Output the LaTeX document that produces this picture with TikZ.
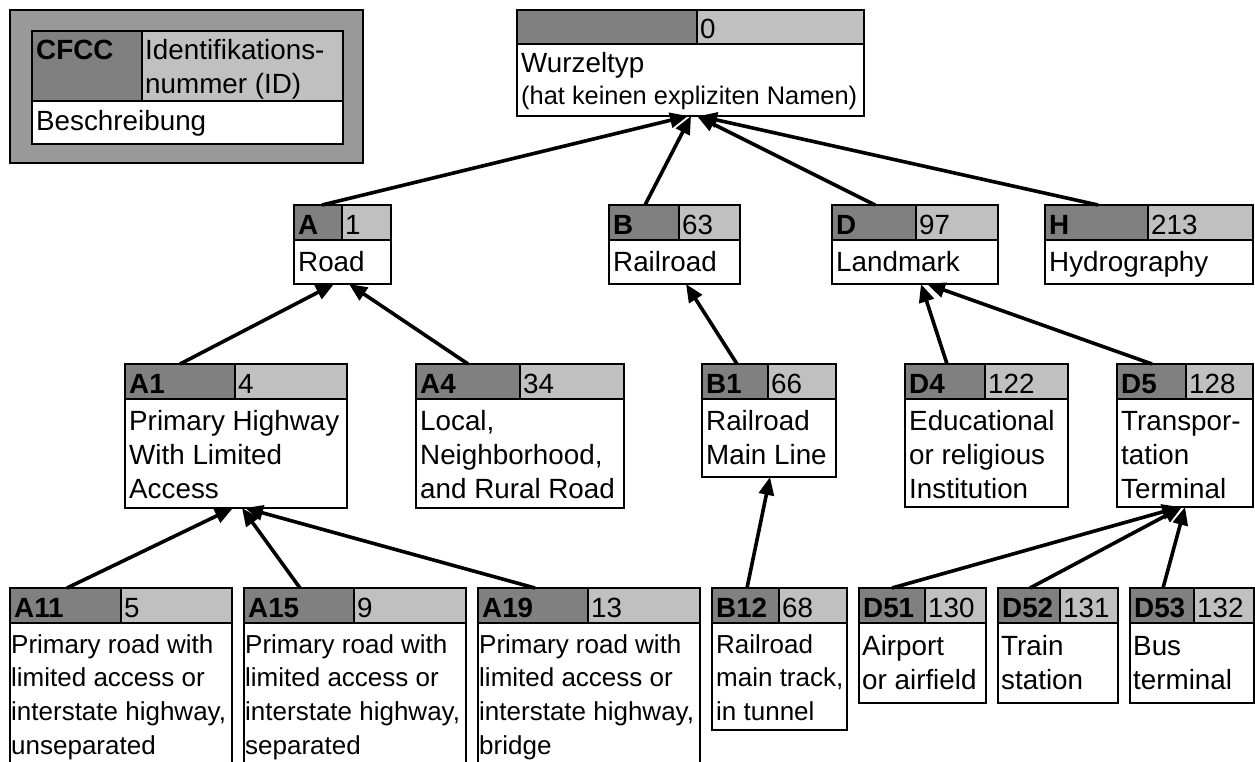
\documentclass[tikz,border=0pt]{standalone}
\usepackage{fontspec}
\setmainfont{Liberation Sans}
\usetikzlibrary{arrows.meta}

\definecolor{hdark}{RGB}{128,128,128}
\definecolor{hlight}{RGB}{192,192,192}
\definecolor{legendbg}{RGB}{153,153,153}

\tikzset{
  cfnode/.style={rectangle, draw=none, fill=white, inner sep=0pt, outer sep=0pt},
  boxline/.style={line width=1.8pt, draw=black},
  codetext/.style={anchor=base west, inner sep=0pt, font=\fontsize{27.8}{34}\selectfont\bfseries},
  idtext/.style={anchor=base west, inner sep=0pt, font=\fontsize{27.8}{34}\selectfont},
  bodytext/.style={anchor=base west, inner sep=0pt, font=\fontsize{27.8}{34}\selectfont},
  smallbody/.style={anchor=base west, inner sep=0pt, font=\fontsize{26}{33.7}\selectfont},
  notetext/.style={anchor=base west, inner sep=0pt, font=\fontsize{25.4}{32}\selectfont},
  link/.style={line width=3.6pt, -{Triangle[length=18pt,width=15pt]}},
}

% multi-line cell text, baseline at the first line
\newcommand\celllines[1]{\parbox[t]{400pt}{\raggedright #1}}

% type box: name, left, top, right, split x, header bottom, bottom, code, id
\newcommand\cfbox[9]{%
  \node[cfnode, anchor=north west, minimum width={(#4-#2)*1pt}, minimum height={(#7-#3)*1pt}] (#1) at (#2,#3) {};
  \fill[hdark] (#2,#3) rectangle (#5,#6);
  \fill[hlight] (#5,#3) rectangle (#4,#6);
  \draw[boxline] (#2,#3) rectangle (#4,#7) (#2,#6) -- (#4,#6) (#5,#3) -- (#5,#6);
  \node[codetext] (#1-code) at (#2+4,#3+29) {#8};
  \node[idtext] (#1-id) at (#5+3,#3+29) {#9};
}

\begin{document}
\begin{tikzpicture}[x=1pt, y=-1pt]
\useasboundingbox (0,0) rectangle (1255,762);
\fill[white] (0,0) rectangle (1255,762);
\clip (0,0) rectangle (1255,762);

% legend
\node[cfnode, fill=legendbg, draw=black, line width=1.8pt, anchor=north west,
      minimum width=353pt, minimum height=153pt] (legend) at (10,10) {};
\cfbox{key}{32}{31}{343}{142}{101}{144}{CFCC}{\celllines{Identifikations-\\nummer (ID)}}
\node[bodytext] (key-text) at (36,131) {Beschreibung};

% root type
\cfbox{root}{517}{10}{864}{697}{44}{116}{}{0}
\node[bodytext] (root-text) at (521,73) {Wurzeltyp};
\node[notetext] (root-note) at (521,105) {(hat keinen expliziten Namen)};

% first level
\cfbox{A}{294}{205}{391}{342}{240}{284}{A}{1}
\node[bodytext] (A-text) at (298,271) {Road};
\cfbox{B}{609}{205}{740}{679}{240}{284}{B}{63}
\node[bodytext] (B-text) at (613,271) {Railroad};
\cfbox{D}{832}{205}{998}{916}{240}{284}{D}{97}
\node[bodytext] (D-text) at (836,271) {Landmark};
\cfbox{H}{1045}{205}{1253}{1148}{240}{284}{H}{213}
\node[bodytext] (H-text) at (1049,271) {Hydrography};

% second level
\cfbox{A1}{125}{364}{347}{235}{399}{508}{A1}{4}
\node[bodytext] (A1-text) at (129,430) {\celllines{Primary Highway\\With Limited\\Access}};
\cfbox{A4}{416}{364}{624}{520}{399}{508}{A4}{34}
\node[bodytext] (A4-text) at (420,430) {\celllines{Local,\\Neighborhood,\\and Rural Road}};
\cfbox{B1}{702}{364}{836}{768}{399}{477}{B1}{66}
\node[bodytext] (B1-text) at (706,430) {\celllines{Railroad\\Main Line}};
\cfbox{D4}{905}{364}{1068}{985}{399}{507}{D4}{122}
\node[bodytext] (D4-text) at (909,430) {\celllines{Educational\\or religious\\Institution}};
\cfbox{D5}{1117}{364}{1253}{1186}{399}{507}{D5}{128}
\node[bodytext] (D5-text) at (1121,430) {\celllines{Transpor-\\tation\\Terminal}};

% third level
\cfbox{A11}{10}{588}{232}{121}{623}{800}{A11}{5}
\node[smallbody] (A11-text) at (11,653) {\celllines{Primary road with\\limited access or\\interstate highway,\\unseparated}};
\cfbox{A15}{244}{588}{466}{354}{623}{800}{A15}{9}
\node[smallbody] (A15-text) at (245,653) {\celllines{Primary road with\\limited access or\\interstate highway,\\separated}};
\cfbox{A19}{478}{588}{700}{588}{623}{800}{A19}{13}
\node[smallbody] (A19-text) at (479,653) {\celllines{Primary road with\\limited access or\\interstate highway,\\bridge}};
\cfbox{B12}{712}{588}{847}{779}{623}{730}{B12}{68}
\node[smallbody] (B12-text) at (716,653) {\celllines{Railroad\\main track,\\in tunnel}};
\cfbox{D51}{859}{588}{986}{925}{623}{703}{D51}{130}
\node[bodytext] (D51-text) at (862,655) {\celllines{Airport\\or airfield}};
\cfbox{D52}{998}{588}{1118}{1060}{623}{703}{D52}{131}
\node[bodytext] (D52-text) at (1001,655) {\celllines{Train\\station}};
\cfbox{D53}{1130}{588}{1254}{1194}{623}{703}{D53}{132}
\node[bodytext] (D53-text) at (1133,655) {\celllines{Bus\\terminal}};

% subtype links
\draw[link] ([xshift=28pt]A.north west) -- ([xshift=171pt]root.south west);
\draw[link] ([xshift=36pt]B.north west) -- ([xshift=174pt]root.south west);
\draw[link] ([xshift=43pt]D.north west) -- ([xshift=180pt]root.south west);
\draw[link] ([xshift=53pt]H.north west) -- ([xshift=182pt]root.south west);

\draw[link] ([xshift=55pt]A1.north west) -- ([xshift=40pt]A.south west);
\draw[link] ([xshift=52pt]A4.north west) -- ([xshift=55pt]A.south west);
\draw[link] ([xshift=35pt]B1.north west) -- ([xshift=77pt]B.south west);
\draw[link] ([xshift=42pt]D4.north west) -- ([xshift=89pt]D.south west);
\draw[link] ([xshift=35pt]D5.north west) -- ([xshift=95pt]D.south west);

\draw[link] ([xshift=57pt]A11.north west) -- ([xshift=108pt]A1.south west);
\draw[link] ([xshift=56pt]A15.north west) -- ([xshift=117pt]A1.south west);
\draw[link] ([xshift=57pt]A19.north west) -- ([xshift=120pt]A1.south west);
\draw[link] ([xshift=35pt]B12.north west) -- ([xshift=68pt]B1.south west);
\draw[link] ([xshift=33pt]D51.north west) -- ([xshift=63pt]D5.south west);
\draw[link] ([xshift=32pt]D52.north west) -- ([xshift=65pt]D5.south west);
\draw[link] ([xshift=33pt]D53.north west) -- ([xshift=68pt]D5.south west);
\end{tikzpicture}
\end{document}
